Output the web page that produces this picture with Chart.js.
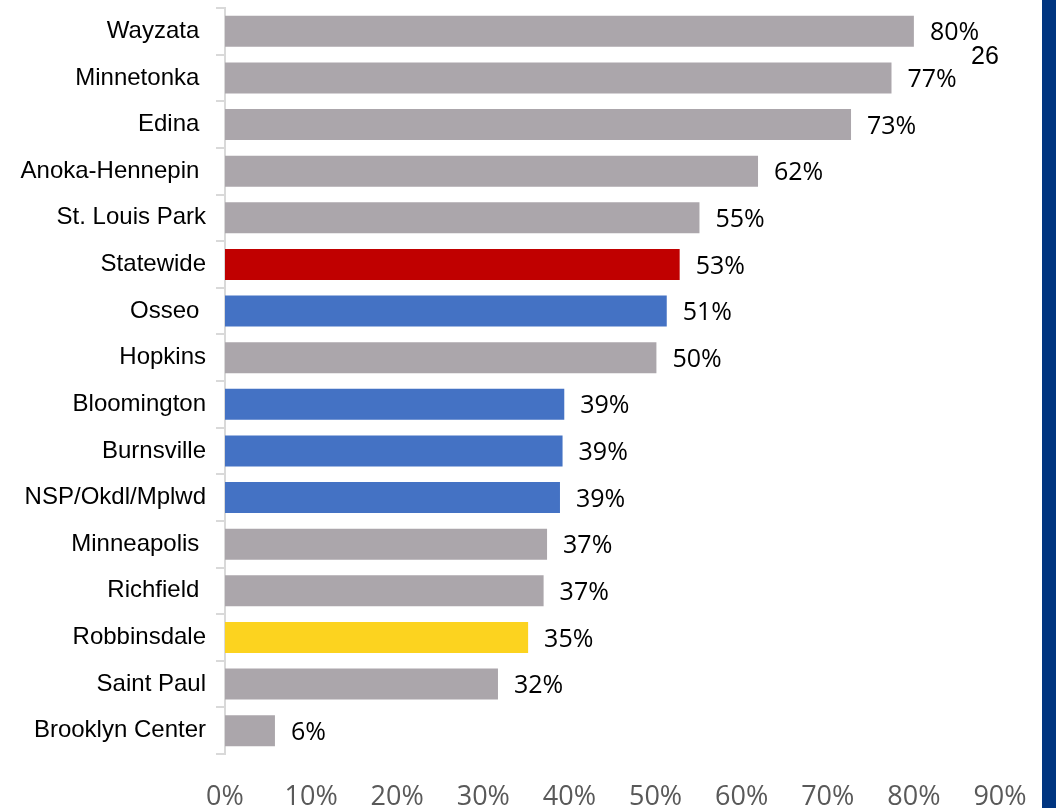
<!DOCTYPE html>
<html>
<head>
<meta charset="utf-8">
<script src="https://cdn.jsdelivr.net/npm/chart.js@4.4.1/dist/chart.umd.min.js"></script>
<style>
  html, body { margin: 0; padding: 0; background: #fff; }
  #wrap { position: relative; width: 1056px; height: 808px; overflow: hidden; }
  #strip { position: absolute; left: 1042px; top: 0; width: 14px; height: 808px; background: #003580; }
  #pagenum { position: absolute; left: 971px; top: 41px; font: 25px "Liberation Sans", Arial, sans-serif; color: #000; }
</style>
</head>
<body>
<div id="wrap">
  <canvas id="chart-districts" width="1056" height="808"></canvas>
  <div id="strip"></div>
  <div id="pagenum">26</div>
</div>
<script>
// districts, top to bottom
const districts = ['Wayzata ', 'Minnetonka ', 'Edina ', 'Anoka-Hennepin ', 'St. Louis Park', 'Statewide', 'Osseo ',
    'Hopkins', 'Bloomington', 'Burnsville', 'NSP/Okdl/Mplwd', 'Minneapolis ', 'Richfield ', 'Robbinsdale', 'Saint Paul', 'Brooklyn Center']
const percents = [80.0, 77.4, 72.7, 61.9, 55.1, 52.8, 51.3, 50.1, 39.4, 39.2, 38.9, 37.4, 37.0, 35.2, 31.7, 5.8]
const barColors = ['#aba6ab', '#aba6ab', '#aba6ab', '#aba6ab', '#aba6ab', '#c00000', '#4472c4',
    '#aba6ab', '#4472c4', '#4472c4', '#4472c4', '#aba6ab', '#aba6ab', '#fcd31f', '#aba6ab', '#aba6ab']
const xTicks = [0, 10, 20, 30, 40, 50, 60, 70, 80, 90]

// draws the "80%" style labels right of each bar
const barLabels = {
    id: 'barLabels',
    afterDatasetsDraw(chart) {
        let ctx = chart.ctx
        let meta = chart.getDatasetMeta(0)
        ctx.save()
        ctx.font = '25px "Open Sans"'
        ctx.fillStyle = '#000'
        ctx.textAlign = 'left'
        ctx.textBaseline = 'middle'
        meta.data.forEach((bar, i) => {
            ctx.fillText(Math.round(percents[i]) + '%', bar.x + 16, bar.y + 2)
        })
        ctx.restore()
    }
}

let ctx = document.getElementById('chart-districts').getContext('2d')
let myChartDistricts = new Chart(ctx, {
    type: 'bar',
    data: {
        labels: districts,
        datasets: [{
            data: percents,
            backgroundColor: barColors,
            borderWidth: 0,
            categoryPercentage: 1,
            barPercentage: 0.665,
        }]
    },
    options: {
        indexAxis: 'y',
        responsive: false,
        animation: false,
        layout: { padding: { left: 0, right: 56, top: 8, bottom: 0 } },
        plugins: { legend: { display: false }, tooltip: { enabled: false } },
        scales: {
            x: {
                min: 0,
                max: 90,
                afterBuildTicks: (scale) => { scale.ticks = xTicks.map(v => ({ value: v })) },
                afterFit: (scale) => { scale.height = 54 },
                grid: { display: false, drawTicks: false },
                border: { display: false },
                ticks: {
                    padding: 27,
                    color: '#595959',
                    font: { family: 'Open Sans', size: 27 },
                    callback: (v) => v + '%'
                }
            },
            y: {
                afterFit: (scale) => {
                    scale.width = 225
                    scale.paddingTop = 0
                    scale.paddingBottom = 0
                },
                grid: { drawOnChartArea: false, color: '#d9d9d9', lineWidth: 2, tickLength: 9 },
                border: { color: '#d9d9d9', width: 2 },
                ticks: {
                    padding: 10,
                    color: '#000',
                    font: { family: 'Liberation Sans', size: 24 }
                }
            }
        }
    },
    plugins: [barLabels]
})
</script>
</body>
</html>
